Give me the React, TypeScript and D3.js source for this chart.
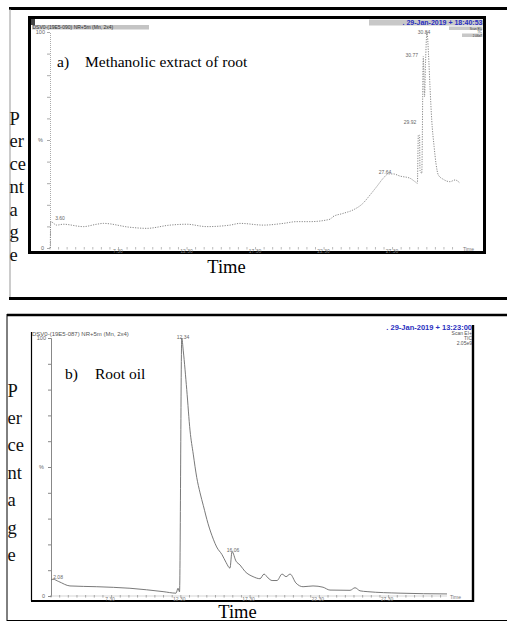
import React, { useEffect, useRef } from 'react';
import * as d3 from 'd3';

// a) methanolic extract of root: retention time (min) / relative abundance (%)
const extractTime = [
  2.36, 2.39, 2.83, 3.31, 4.77, 5.75, 6.23, 8.18, 9.39, 11.1, 12.31, 13.77, 15.48, 16.21,
  17.91, 19.37, 20.34, 21.31, 22.77, 22.99, 23.72, 24.45, 25.18, 25.69, 26.18, 26.66, 27.03,
  27.39, 27.88, 28.61, 28.98, 29.15, 29.22, 29.31, 29.34, 29.47, 29.58, 29.67, 29.74, 29.85,
  29.96, 30.07, 30.2, 30.37, 30.51, 30.68, 31.04, 31.53, 31.9, 32.26,
];
const extractPct = [
  0, 12.2, 10.6, 11.0, 9.9, 11.0, 11.4, 9.6, 9.1, 10.6, 11.0, 9.9, 10.6, 11.4,
  10.6, 11.4, 12.2, 12.2, 13.3, 14.5, 16.0, 17.6, 20.7, 24.5, 28.4, 32.3, 34.3,
  34.3, 33.3, 32.3, 30.7, 30.0, 52.3, 52.3, 36.0, 34.6, 88.6, 70, 85, 100,
  90, 74.7, 59, 47, 39, 33.8, 31.8, 30.7, 31.5, 30.0,
];
const extractPeakTime = [3.07, 26.79, 28.61, 28.74, 29.64];
const extractPeakPct = [13.9, 35.3, 58.5, 89.4, 100.1];
const extractPeakLabels = ['3.60', '27.64', '29.92', '30.77', '30.84'];

// b) root oil
const oilTime = [
  3.04, 3.18, 3.6, 4.41, 6.34, 8.74, 11.13, 12.07, 12.21, 12.32, 12.48, 12.59, 12.84, 13.08,
  13.31, 13.56, 13.8, 14.04, 14.38, 14.76, 15.0, 15.39, 15.68, 15.96, 16.11, 16.4, 16.69,
  17.05, 17.63, 18.13, 18.42, 18.71, 19.0, 19.36, 19.72, 20.01, 20.3, 20.73, 21.24, 21.96,
  22.68, 23.18, 24.63, 24.99, 25.35, 25.86, 28.24, 31.63,
];
const oilPct = [
  6.2, 6.5, 5.6, 3.9, 3.6, 3.0, 1.7, 1.1, 3.0, 1.6, 100, 95, 80, 64,
  55, 46, 40, 35, 28, 22, 19, 16, 13, 10.8, 17.2, 13.5, 12,
  9.5, 7.5, 6.7, 8.5, 7, 6, 6, 8.5, 7.5, 8.5, 5, 3.6, 3.9,
  3.4, 2.3, 2.2, 3.2, 2.0, 1.7, 1.1, 0.8,
];
const oilPeakTime = [3.55, 12.57, 16.18];
const oilPeakPct = [7.4, 100.4, 17.8];
const oilPeakLabels = ['2.08', '12.34', '16.06'];

const timeTicks = [7.3, 12.3, 17.3, 22.3, 27.3];
const timeTickLabels = ['7.30', '12.30', '17.30', '22.30', '27.30'];
const pctTicks = [0, 10, 20, 30, 40, 50, 60, 70, 80, 90, 100];
const yTitle = ['P', 'er', 'ce', 'nt', 'a', 'g', 'e'];

const SERIF = '"Liberation Serif", "DejaVu Serif", serif';
const SANS = '"Liberation Sans", Arial, sans-serif';

function drawChromatogram(svg, o) {
  const g = svg.append('g');
  const x = d3.scaleLinear().domain(o.xDomain).range(o.xRange);
  const y = d3.scaleLinear().domain([0, 100]).range(o.yRange);
  const ax = o.xRange[0];

  // y axis
  const yAxis = g
    .append('g')
    .attr('transform', `translate(${ax},0)`)
    .call(d3.axisLeft(y).tickValues(pctTicks).tickSize(3).tickFormat(() => ''));
  yAxis.selectAll('.domain').attr('stroke', o.axisColor).attr('stroke-dasharray', o.dotted ? '1 1' : null);
  yAxis.selectAll('.tick line').attr('stroke', o.axisColor);

  g.append('text').attr('x', ax - 5).attr('y', y(100)).text('100');
  g.append('text').attr('x', ax - 7).attr('y', y(50)).text('%');
  g.append('text').attr('x', ax - 6).attr('y', y(0)).text('0');
  g.selectAll('text')
    .attr('text-anchor', 'end')
    .attr('dominant-baseline', 'central')
    .attr('font-family', SANS)
    .attr('font-size', 5.5)
    .attr('fill', '#666');

  // x axis: minor ticks + labels
  const minor = d3.range(o.xDomain[0], o.xDomain[1], 5 / 8);
  const y0 = y(0);
  g.append('g')
    .selectAll('line')
    .data(minor)
    .join('line')
    .attr('x1', (d) => x(d))
    .attr('x2', (d) => x(d))
    .attr('y1', y0 - 1)
    .attr('y2', y0 + 1.5)
    .attr('stroke', o.axisColor)
    .attr('stroke-width', 0.8);
  if (!o.dotted) {
    g.append('line')
      .attr('x1', ax).attr('x2', o.xRange[1])
      .attr('y1', y0).attr('y2', y0)
      .attr('stroke', '#bbb').attr('stroke-width', 0.6);
  }
  g.append('g')
    .selectAll('text')
    .data(timeTicks)
    .join('text')
    .attr('x', (d) => x(d))
    .attr('y', y0 + 3)
    .attr('text-anchor', 'middle')
    .attr('dominant-baseline', 'central')
    .attr('font-family', SANS)
    .attr('font-size', 5)
    .attr('fill', '#777')
    .text((d, i) => timeTickLabels[i]);
  g.append('text')
    .attr('x', o.xRange[1] + 3)
    .attr('y', y0 + 0.5)
    .attr('dominant-baseline', 'central')
    .attr('font-family', SANS)
    .attr('font-size', 5)
    .attr('fill', '#777')
    .text('Time');

  // trace
  const pts = o.time.map((t, i) => [t, o.pct[i]]);
  g.append('path')
    .datum(pts)
    .attr('fill', 'none')
    .attr('stroke', o.lineColor)
    .attr('stroke-width', o.dotted ? 1 : 0.9)
    .attr('stroke-dasharray', o.dotted ? '1.2 1.3' : null)
    .attr(
      'd',
      d3
        .line()
        .x((d) => x(d[0]))
        .y((d) => y(d[1]))
        .curve(d3.curveMonotoneX)
    );

  // peak labels
  g.append('g')
    .selectAll('text')
    .data(o.peakTime)
    .join('text')
    .attr('x', (d) => x(d))
    .attr('y', (d, i) => y(o.peakPct[i]))
    .attr('text-anchor', 'middle')
    .attr('dominant-baseline', 'central')
    .attr('font-family', SANS)
    .attr('font-size', 5)
    .attr('fill', '#666')
    .text((d, i) => o.peakLabels[i]);
}

function stackedTitle(svg, x, firstBaseline, step, size) {
  svg
    .append('g')
    .selectAll('text')
    .data(yTitle)
    .join('text')
    .attr('x', x)
    .attr('y', (d, i) => firstBaseline + i * step)
    .attr('font-family', SERIF)
    .attr('font-size', size)
    .attr('fill', '#111')
    .text((d) => d);
}

export default function App() {
  const ref = useRef(null);

  useEffect(() => {
    const svg = d3.select(ref.current);
    svg.selectAll('*').remove();

    // ---------- panel a frame ----------
    svg.append('line').attr('x1', 9).attr('x2', 507).attr('y1', 8.5).attr('y2', 8.5).attr('stroke', '#000').attr('stroke-width', 3);
    svg.append('line').attr('x1', 10).attr('x2', 10).attr('y1', 9).attr('y2', 298).attr('stroke', '#999').attr('stroke-width', 1);
    svg.append('line').attr('x1', 9).attr('x2', 507).attr('y1', 298.5).attr('y2', 298.5).attr('stroke', '#000').attr('stroke-width', 3);
    svg.append('rect').attr('x', 29.5).attr('y', 17.5).attr('width', 455).attr('height', 235)
      .attr('fill', '#fff').attr('stroke', '#000').attr('stroke-width', 3);

    // header of chart a
    svg.append('rect').attr('x', 31).attr('y', 19).attr('width', 4).attr('height', 6).attr('fill', '#444');
    svg.append('rect').attr('x', 32).attr('y', 25).attr('width', 117).attr('height', 4.5).attr('fill', '#c4c4c4');
    svg.append('text').attr('x', 32.5).attr('y', 28.8).attr('font-family', SANS).attr('font-size', 5).attr('fill', '#333')
      .text('DSV0-(19E5-090) NR+5m (Mn, 2x4)');
    svg.append('rect').attr('x', 369).attr('y', 19.5).attr('width', 114).attr('height', 6).attr('fill', '#c8c8c8');
    svg.append('text').attr('x', 482.5).attr('y', 25).attr('text-anchor', 'end').attr('font-family', SANS)
      .attr('font-weight', 'bold').attr('font-size', 7).attr('fill', '#2a2fc0').text('. 29-Jan-2019 + 18:40:53');
    svg.append('rect').attr('x', 449).attr('y', 26.5).attr('width', 33.5).attr('height', 3.5).attr('fill', '#c8c8c8');
    svg.append('rect').attr('x', 462).attr('y', 33.5).attr('width', 20.5).attr('height', 3.5).attr('fill', '#c8c8c8');
    [['Scan EI+', 29.6], ['TIC', 33.2], ['2.06e7', 36.8]].forEach(([t, yy]) => {
      svg.append('text').attr('x', 482).attr('y', yy).attr('text-anchor', 'end').attr('font-family', SANS)
        .attr('font-size', 3).attr('fill', '#333').text(t);
    });

    drawChromatogram(svg, {
      xDomain: [2.34, 32.26],
      xRange: [50, 460],
      yRange: [248, 32],
      dotted: true,
      axisColor: '#aaa',
      lineColor: '#888',
      time: extractTime,
      pct: extractPct,
      peakTime: extractPeakTime,
      peakPct: extractPeakPct,
      peakLabels: extractPeakLabels,
    });

    svg.append('text').attr('x', 57).attr('y', 66.5).attr('font-family', SERIF).attr('font-size', 15.5).text('a)');
    svg.append('text').attr('x', 85).attr('y', 66.5).attr('font-family', SERIF).attr('font-size', 15.5)
      .text('Methanolic extract of root');
    stackedTitle(svg, 9.5, 124.5, 22.75, 18.5);
    svg.append('text').attr('x', 226.5).attr('y', 273).attr('text-anchor', 'middle').attr('font-family', SERIF)
      .attr('font-size', 18.5).text('Time');

    // ---------- panel b frame ----------
    svg.append('line').attr('x1', 7).attr('x2', 507).attr('y1', 315).attr('y2', 315).attr('stroke', '#000').attr('stroke-width', 2.5);
    svg.append('line').attr('x1', 7).attr('x2', 7).attr('y1', 314).attr('y2', 621).attr('stroke', '#000').attr('stroke-width', 1);
    svg.append('line').attr('x1', 7).attr('x2', 507).attr('y1', 620.5).attr('y2', 620.5).attr('stroke', '#000').attr('stroke-width', 1);
    svg.append('line').attr('x1', 31.5).attr('x2', 31.5).attr('y1', 332).attr('y2', 601).attr('stroke', '#000').attr('stroke-width', 1.2);
    svg.append('line').attr('x1', 31).attr('x2', 474).attr('y1', 601).attr('y2', 601).attr('stroke', '#000').attr('stroke-width', 2);
    svg.append('line').attr('x1', 473).attr('x2', 473).attr('y1', 325).attr('y2', 602).attr('stroke', '#000').attr('stroke-width', 2.4);

    svg.append('text').attr('x', 32).attr('y', 335.5).attr('font-family', SANS).attr('font-size', 6).attr('fill', '#555')
      .text('DSV0-(19E5-087) NR+5m (Mn, 2x4)');
    svg.append('text').attr('x', 472).attr('y', 329.5).attr('text-anchor', 'end').attr('font-family', SANS)
      .attr('font-weight', 'bold').attr('font-size', 7.5).attr('fill', '#2a2fc0').text('. 29-Jan-2019 + 13:23:00');
    [['Scan EI+', 335], ['TIC', 340], ['2.05e9', 345]].forEach(([t, yy]) => {
      svg.append('text').attr('x', 472).attr('y', yy).attr('text-anchor', 'end').attr('font-family', SANS)
        .attr('font-size', 5).attr('fill', '#555').text(t);
    });

    drawChromatogram(svg, {
      xDomain: [3.04, 31.63],
      xRange: [51, 447],
      yRange: [596, 338],
      dotted: false,
      axisColor: '#888',
      lineColor: '#6a6a6a',
      time: oilTime,
      pct: oilPct,
      peakTime: oilPeakTime,
      peakPct: oilPeakPct,
      peakLabels: oilPeakLabels,
    });

    svg.append('text').attr('x', 65).attr('y', 379).attr('font-family', SERIF).attr('font-size', 15.5).text('b)');
    svg.append('text').attr('x', 95).attr('y', 379).attr('font-family', SERIF).attr('font-size', 15.5).text('Root oil');
    stackedTitle(svg, 7.5, 396.5, 27.4, 18.5);
    svg.append('text').attr('x', 237.5).attr('y', 618).attr('text-anchor', 'middle').attr('font-family', SERIF)
      .attr('font-size', 18.5).text('Time');
  }, []);

  return (
    <svg
      ref={ref}
      width={507}
      height={621}
      style={{ position: 'absolute', left: 0, top: 0, background: '#fff' }}
    />
  );
}
